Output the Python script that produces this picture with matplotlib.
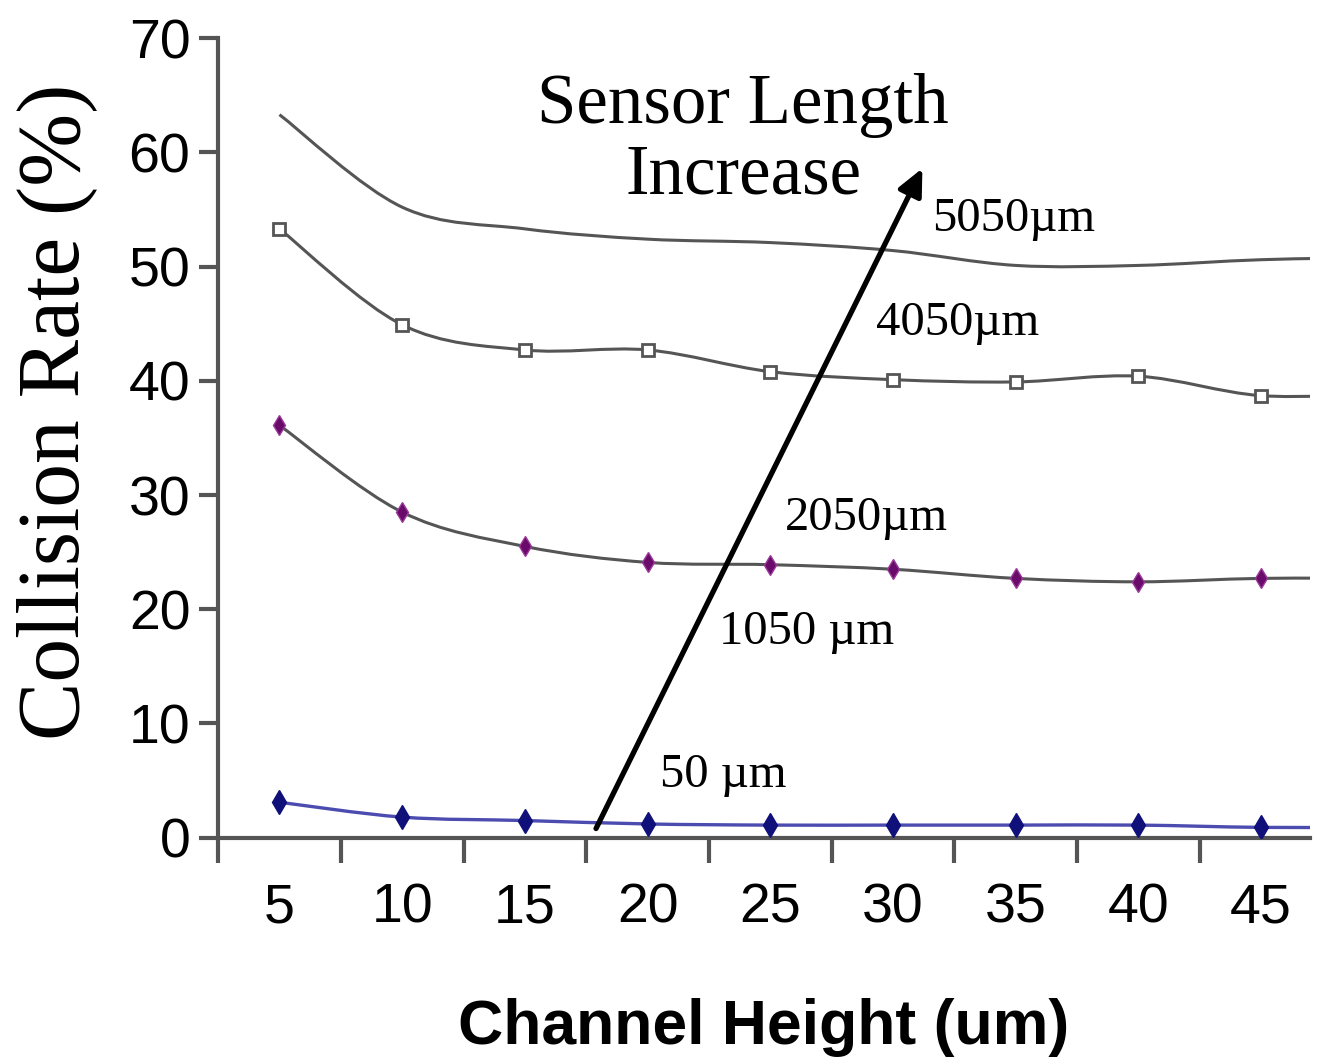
import numpy as np
import matplotlib
matplotlib.use("Agg")
import matplotlib.pyplot as plt
from matplotlib.path import Path
from matplotlib.patches import PathPatch

# channel height (um); the last point sits past the right edge and is clipped
heights = [5, 10, 15, 20, 25, 30, 35, 40, 45, 50]
rate_5050 = [63.3, 55.2, 53.3, 52.4, 52.1, 51.4, 50.1, 50.1, 50.6, 50.8]
rate_4050 = [53.3, 44.9, 42.7, 42.7, 40.8, 40.1, 39.9, 40.4, 38.7, 38.9]
rate_2050 = [36.1, 28.5, 25.5, 24.1, 23.9, 23.5, 22.7, 22.4, 22.7, 22.7]
rate_50 = [3.1, 1.8, 1.5, 1.2, 1.1, 1.1, 1.1, 1.1, 0.9, 0.9]
n_marked = 9  # markers only at 5..45

labels = ["5050\u00b5m", "4050\u00b5m", "2050\u00b5m", "1050 \u00b5m", "50 \u00b5m"]
xticks = [5, 10, 15, 20, 25, 30, 35, 40, 45]
yticks = [0, 10, 20, 30, 40, 50, 60, 70]

SERIF = ["Liberation Serif", "DejaVu Serif"]
SANS = ["Liberation Sans", "DejaVu Sans"]


def smooth_line(ax, x, y, color, lw):
    """Excel-like smoothed line: cubic Bezier through the points."""
    x = np.asarray(x, float)
    y = np.asarray(y, float)
    verts = [(x[0], y[0])]
    codes = [Path.MOVETO]
    n = len(x)
    for i in range(n - 1):
        p0 = (x[max(i - 1, 0)], y[max(i - 1, 0)])
        p1 = (x[i], y[i])
        p2 = (x[i + 1], y[i + 1])
        p3 = (x[min(i + 2, n - 1)], y[min(i + 2, n - 1)])
        c1 = (p1[0] + (p2[0] - p0[0]) / 6, p1[1] + (p2[1] - p0[1]) / 6)
        c2 = (p2[0] - (p3[0] - p1[0]) / 6, p2[1] - (p3[1] - p1[1]) / 6)
        verts += [c1, c2, p2]
        codes += [Path.CURVE4] * 3
    ax.add_patch(PathPatch(Path(verts, codes), facecolor="none",
                           edgecolor=color, lw=lw, zorder=3))


fig = plt.figure(figsize=(13.22, 10.59), dpi=100)
ax = fig.add_axes([0.165, 0.209, 0.826, 0.755])

grey = "#555555"
smooth_line(ax, heights, rate_5050, grey, 2.2)
smooth_line(ax, heights, rate_4050, grey, 2.2)
smooth_line(ax, heights, rate_2050, grey, 2.2)
smooth_line(ax, heights, rate_50, "#4b4bb0", 2.4)

ax.plot(heights[:n_marked], rate_4050[:n_marked], ls="none", marker="s",
        ms=8, mfc="white", mec="#555555", mew=2, zorder=4)
ax.plot(heights[:n_marked], rate_2050[:n_marked], ls="none", marker="d",
        ms=10, mfc="#6a0a6a", mec="#9a3a9a", mew=1, zorder=4)
ax.plot(heights[:n_marked], rate_50[:n_marked], ls="none", marker="d",
        ms=12, mfc="#10107a", mec="#10107a", mew=1, zorder=4)

ax.set_xlim(2.5, 47)
ax.set_ylim(0, 70)

# ticks between categories on x, labels centred on the points
ax.set_xticks([2.5 + 5 * i for i in range(9)])
ax.set_xticklabels([])
ax.set_xticks(xticks, minor=True)
ax.set_xticklabels([str(v) for v in xticks], minor=True)
ax.tick_params(axis="x", which="major", length=18, width=3, color="#555555",
               direction="out")
ax.tick_params(axis="x", which="minor", length=0, pad=32, labelsize=40)
ax.set_yticks(yticks)
ax.tick_params(axis="y", length=14, width=3, color="#555555", pad=6,
               labelsize=40)
for lab in ax.get_xticklabels(minor=True) + ax.get_yticklabels():
    lab.set_family(SANS)

for side in ["top", "right"]:
    ax.spines[side].set_visible(False)
for side in ["left", "bottom"]:
    ax.spines[side].set_linewidth(3)
    ax.spines[side].set_color("#555555")

ax.set_ylabel("Collision Rate (%)", family=SERIF, fontsize=63)
ax.yaxis.label.set_va("center")
ax.yaxis.set_label_coords(-0.148, 0.533)
ax.set_xlabel("Channel Height (um)", family=SANS, fontsize=45,
              labelpad=46, fontweight="bold")

# annotations
ax.annotate("", xy=(31.2, 58.6), xytext=(17.9, 0.8),
            arrowprops=dict(arrowstyle="-|>,head_length=1.6,head_width=0.75",
                            lw=3.8, color="black", shrinkA=0, shrinkB=0),
            zorder=5)
ax.text(23.9, 61.0, "Sensor Length\nIncrease", family=SERIF, fontsize=51,
        ha="center", va="center", linespacing=1.12)
label_pos = [(31.6, 54.2), (29.3, 45.1), (25.6, 28.0), (22.9, 18.0), (20.5, 5.5)]
for txt, (lx, ly) in zip(labels, label_pos):
    ax.text(lx, ly, txt, family=SERIF, fontsize=35, ha="left", va="center")

fig.savefig("out.png", dpi=100)
